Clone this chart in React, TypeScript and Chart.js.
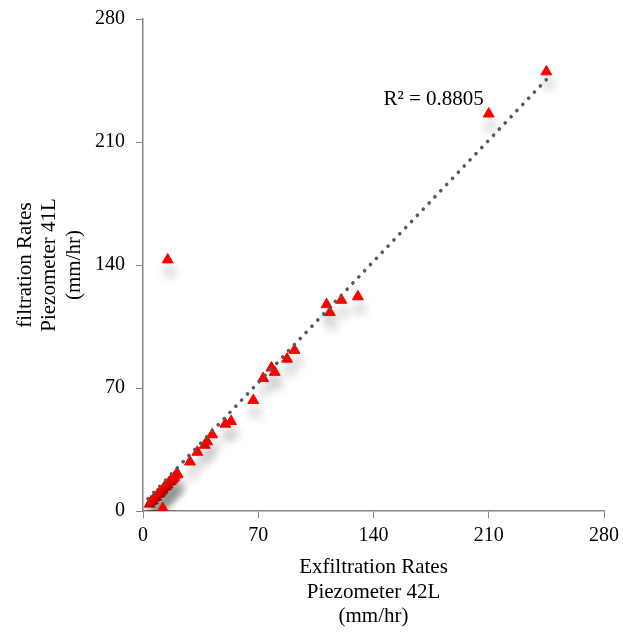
import React, { useEffect, useRef } from "react";
import { Chart, registerables } from "chart.js";

Chart.register(...registerables);

const exfiltration: number[] = [
  4, 5, 6, 7, 8, 9, 10, 11, 12, 13, 14, 15, 16, 17, 18, 19, 20, 21,
  28.5, 33, 37.5, 39, 42, 50, 53.5, 67, 73, 78, 80, 87.5, 92,
  111.5, 113.5, 120.5, 130.5, 15, 12, 210, 245,
];
const infiltration: number[] = [
  4, 5.5, 6, 7.5, 8, 9.5, 10, 11, 12, 13.5, 14, 15, 16.5, 17, 18, 19, 20.5, 21,
  28, 33.5, 37.5, 39.5, 43.5, 49.5, 51, 63, 75.5, 81.5, 79, 86.5, 91.5,
  117.5, 113, 120, 122, 143, 1.5, 226, 250,
];
const trendX: number[] = [3, 246];
const trendY: number[] = [7, 246.5];
const axisTicks: number[] = [0, 70, 140, 210, 280];
const xTitle: string[] = ["Exfiltration Rates", "Piezometer 42L", "(mm/hr)"];
const yTitle: string[] = ["filtration Rates", "Piezometer 41L", "(mm/hr)"];
const r2Label = "R² = 0.8805";
const r2Anchor: number[] = [146, 234];

const FONT = "'Liberation Serif', 'Times New Roman', serif";

export default function App() {
  const ref = useRef<HTMLCanvasElement | null>(null);

  useEffect(() => {
    if (!ref.current) return;
    const shadowPlugin = {
      id: "shadowPlugin",
      beforeDatasetDraw(chart: any, args: any) {
        if (args.index === 1) {
          const ctx = chart.ctx;
          ctx.save();
          ctx.shadowColor = "rgba(0,0,0,0.28)";
          ctx.shadowBlur = 11;
          ctx.shadowOffsetX = 2;
          ctx.shadowOffsetY = 12;
        }
      },
      afterDatasetDraw(chart: any, args: any) {
        if (args.index === 1) chart.ctx.restore();
      },
    };
    const labelPlugin = {
      id: "labelPlugin",
      afterDatasetsDraw(chart: any) {
        const ctx = chart.ctx;
        const x = chart.scales.x.getPixelForValue(r2Anchor[0]);
        const y = chart.scales.y.getPixelForValue(r2Anchor[1]);
        ctx.save();
        ctx.font = `21px ${FONT}`;
        ctx.fillStyle = "#000";
        ctx.textAlign = "left";
        ctx.textBaseline = "middle";
        ctx.fillText(r2Label, x, y);
        ctx.restore();
      },
    };
    const axisCommon = (titleText: string[], titlePadding: any) => ({
      type: "linear" as const,
      min: 0,
      max: 280,
      afterBuildTicks: (scale: any) => {
        scale.ticks = axisTicks.map((v) => ({ value: v }));
      },
      grid: {
        drawOnChartArea: false,
        drawTicks: true,
        tickLength: 7,
        color: "#868686",
      },
      border: { color: "#868686", width: 1.5 },
      ticks: {
        color: "#000",
        font: { family: FONT, size: 20 },
      },
      title: {
        display: true,
        text: titleText,
        color: "#000",
        font: { family: FONT, size: 21, lineHeight: 1.17 },
        padding: titlePadding,
      },
    });
    const xAxis: any = axisCommon(xTitle, { top: 0, bottom: 4 });
    xAxis.ticks.padding = 6;
    xAxis.afterFit = (scale: any) => {
      scale.height = 122;
      scale.paddingLeft = 0;
      scale.paddingRight = 0;
    };
    const yAxis: any = axisCommon(yTitle, { top: 13, bottom: 0 });
    yAxis.ticks.padding = 11;
    yAxis.afterFit = (scale: any) => {
      scale.width = 143;
      scale.paddingTop = 0;
      scale.paddingBottom = 0;
    };

    const chart = new Chart(ref.current, {
      type: "scatter",
      data: {
        datasets: [
          {
            label: "trend",
            data: trendX.map((x, i) => ({ x, y: trendY[i] })),
            showLine: true,
            borderColor: "#5a5a5a",
            borderWidth: 3.6,
            borderDash: [0.1, 8.4],
            borderCapStyle: "round",
            pointRadius: 0,
            fill: false,
          },
          {
            label: "rates",
            data: exfiltration.map((x, i) => ({ x, y: infiltration[i] })),
            pointStyle: "triangle",
            pointRadius: 6.3,
            pointBackgroundColor: "#ff0000",
            pointBorderColor: "#ff0000",
            pointBorderWidth: 1,
          },
        ],
      },
      options: {
        animation: false,
        responsive: false,
        devicePixelRatio: 1,
        layout: { padding: { left: 0, right: 19, top: 19, bottom: 0 } },
        plugins: {
          legend: { display: false },
          tooltip: { enabled: false },
        },
        scales: { x: xAxis, y: yAxis },
      } as any,
      plugins: [shadowPlugin, labelPlugin],
    });
    return () => chart.destroy();
  }, []);

  return (
    <div style={{ position: "fixed", left: 0, top: 0, width: 623, height: 633, background: "#fff" }}>
      <canvas ref={ref} width={623} height={633} style={{ display: "block" }} />
    </div>
  );
}
